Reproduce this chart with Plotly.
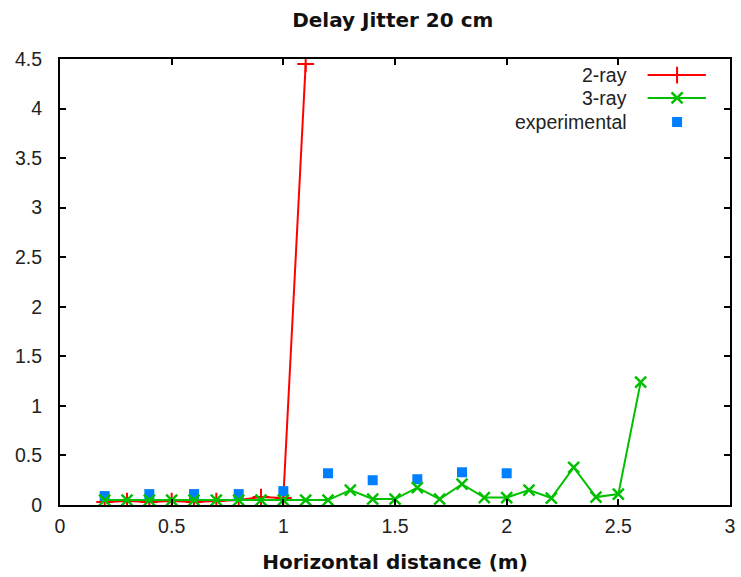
import plotly.graph_objects as go

# Data
x_2ray = [0.2, 0.3, 0.4, 0.5, 0.6, 0.7, 0.8, 0.9, 1.0, 1.1]
y_2ray = [0.03, 0.04, 0.03, 0.04, 0.03, 0.04, 0.05, 0.08, 0.07, 4.45]

x_3ray = [0.2, 0.3, 0.4, 0.5, 0.6, 0.7, 0.8, 0.9, 1.0, 1.1, 1.2, 1.3, 1.4, 1.5, 1.6,
          1.7, 1.8, 1.9, 2.0, 2.1, 2.2, 2.3, 2.4, 2.5, 2.6]
y_3ray = [0.05, 0.05, 0.05, 0.05, 0.05, 0.05, 0.05, 0.05, 0.05, 0.05, 0.05, 0.15, 0.06, 0.06, 0.175,
          0.06, 0.21, 0.075, 0.075, 0.15, 0.07, 0.38, 0.08, 0.11, 1.24]

x_exp = [0.2, 0.4, 0.6, 0.8, 1.0, 1.2, 1.4, 1.6, 1.8, 2.0]
y_exp = [0.09, 0.11, 0.11, 0.11, 0.14, 0.32, 0.25, 0.26, 0.33, 0.32]

x_ticks = [0, 0.5, 1, 1.5, 2, 2.5, 3]
x_ticklabels = ["0", "0.5", "1", "1.5", "2", "2.5", "3"]
y_ticks = [0, 0.5, 1, 1.5, 2, 2.5, 3, 3.5, 4, 4.5]
y_ticklabels = ["0", "0.5", "1", "1.5", "2", "2.5", "3", "3.5", "4", "4.5"]

series_names = ["2-ray", "3-ray", "experimental"]
RED, GREEN, BLUE = "#ff0000", "#00c000", "#0080ff"

MK_2RAY = dict(symbol="cross-thin-open", size=12, color=RED, line=dict(color=RED, width=2))
MK_3RAY = dict(symbol="x-thin-open", size=11, color=GREEN, line=dict(color=GREEN, width=2.5))
MK_EXP = dict(symbol="square", size=10, color=BLUE, line=dict(width=0))

fig = go.Figure()
fig.add_trace(go.Scatter(x=x_2ray, y=y_2ray, mode="lines+markers", name=series_names[0],
                         line=dict(color=RED, width=2), marker=MK_2RAY))
fig.add_trace(go.Scatter(x=x_exp, y=y_exp, mode="markers", name=series_names[2], marker=MK_EXP))
fig.add_trace(go.Scatter(x=x_3ray, y=y_3ray, mode="lines+markers", name=series_names[1],
                         line=dict(color=GREEN, width=2), marker=MK_3RAY))

# Manual gnuplot-style legend (text right-aligned, sample on the right)
rows_y = [0.964, 0.9126, 0.8587]
text_x = 0.849
line_x0, line_x1, mark_x = 0.877, 0.964, 0.921
styles = [(MK_2RAY, RED, True), (MK_3RAY, GREEN, True), (MK_EXP, BLUE, False)]
for name, ry, (mk, col, has_line) in zip(series_names, rows_y, styles):
    fig.add_annotation(x=text_x, y=ry, xref="paper", yref="paper", text=name, showarrow=False,
                       xanchor="right", yanchor="middle",
                       font=dict(family="Liberation Sans", size=19.5, color="#222"))
    if has_line:
        fig.add_shape(type="line", x0=line_x0, x1=line_x1, y0=ry, y1=ry, xref="paper", yref="paper",
                      line=dict(color=col, width=2))
    fig.add_trace(go.Scatter(x=[mark_x], y=[ry], xaxis="x2", yaxis="y2", mode="markers",
                             showlegend=False, hoverinfo="skip", marker=mk))

axis_common = dict(showline=True, linecolor="black", linewidth=2, mirror="ticks",
                   ticks="inside", ticklen=6, tickwidth=2, tickcolor="black",
                   showgrid=False, zeroline=False,
                   tickfont=dict(family="Liberation Sans", size=19.5, color="#222"))

fig.update_layout(
    width=741, height=577,
    margin=dict(l=60, r=6, t=59, b=72),
    paper_bgcolor="white", plot_bgcolor="white",
    showlegend=False,
    title=dict(text="<b>Delay Jitter 20 cm</b>", x=0.53, xanchor="center", y=0.965, yanchor="middle",
               font=dict(family="DejaVu Sans", size=20, color="#111")),
    xaxis=dict(range=[0, 3], tickvals=x_ticks, ticktext=x_ticklabels,
               title=dict(text="<b>Horizontal distance (m)</b>", standoff=19,
                          font=dict(family="DejaVu Sans", size=20, color="#111")),
               ticklabelstandoff=3, **axis_common),
    yaxis=dict(range=[0, 4.5], tickvals=y_ticks, ticktext=y_ticklabels,
               ticklabelstandoff=12, **axis_common),
    xaxis2=dict(range=[0, 1], overlaying="x", visible=False, fixedrange=True),
    yaxis2=dict(range=[0, 1], overlaying="y", visible=False, fixedrange=True),
)

fig.write_html("out.html")
